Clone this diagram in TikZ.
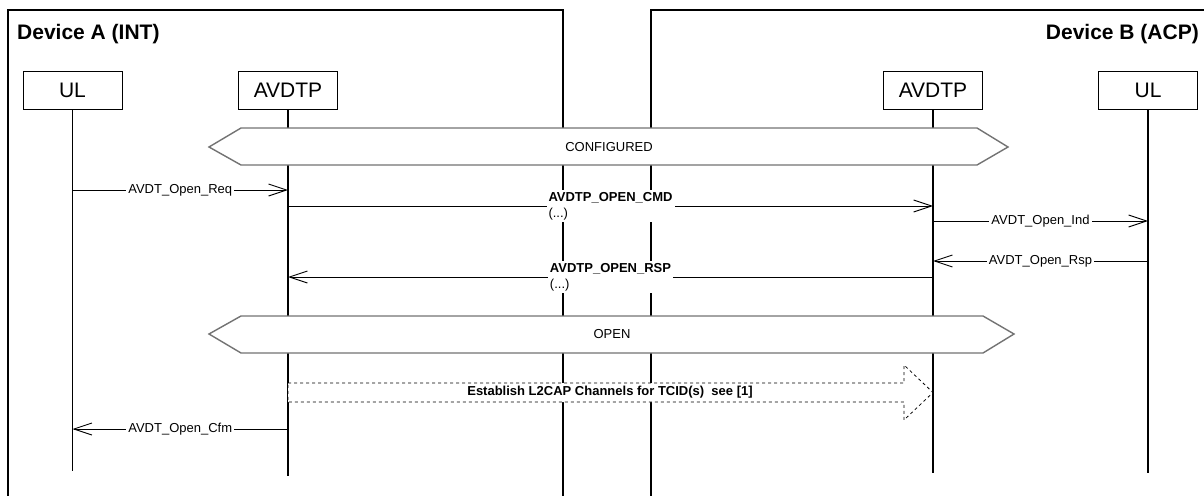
\documentclass[tikz,border=0pt]{standalone}
\usepackage{fontspec}
\setmainfont{Liberation Sans}
\usetikzlibrary{arrows.meta}
\begin{document}
\begin{tikzpicture}[x=1pt,y=-1pt,
  devline/.style={line width=2.2pt},
  devlabel/.style={inner sep=0pt,font=\fontsize{21}{24}\selectfont\bfseries},
  lifebox/.style={draw,line width=1pt,minimum width=99pt,minimum height=38pt,inner sep=0pt,font=\fontsize{21}{24}\selectfont},
  life/.style={line width=1.2pt},
  msg/.style={line width=0.9pt,-{Straight Barb[length=18pt,width=12pt,line width=0.9pt]}},
  lbl/.style={fill=white,inner sep=2pt,font=\fontsize{13}{16}\selectfont},
  state/.style={draw=black!55,line width=1.4pt,fill=white,line join=miter},
  statelbl/.style={inner sep=0pt,font=\fontsize{13}{16}\selectfont},
  fat/.style={draw,dashed,line width=0.8pt,fill=white}]
\useasboundingbox (0,0) rectangle (1204,495);
\clip (0,0) rectangle (1204,495);
% device frames
\draw[devline] (8,500) -- (8,10) -- (563,10) -- (563,500);
\draw[devline] (651,500) -- (651,10) -- (1210,10);
\node[devlabel,anchor=base west] (devA) at (17,40) {Device A (INT)};
\node[devlabel,anchor=base east] (devB) at (1199,40) {Device B (ACP)};
% lifeline heads
\node[lifebox] (ulA) at (72.5,90) {UL};
\node[lifebox] (avA) at (288,90) {AVDTP};
\node[lifebox] (avB) at (933,90) {AVDTP};
\node[lifebox] (ulB) at (1148,90) {UL};
\coordinate (ulAend) at (ulA |- 0,471);
\coordinate (avAend) at (avA |- 0,476);
\coordinate (avBend) at (avB |- 0,473);
\coordinate (ulBend) at (ulB |- 0,473);
\draw[life] (ulA.south) -- (ulAend);
\draw[life] (avA.south) -- (avAend);
\draw[life] (avB.south) -- (avBend);
\draw[life] (ulB.south) -- (ulBend);
% states
\draw[state] (209,147) -- (241,128) -- (977,128) -- (1008,147) -- (977,165) -- (241,165) -- cycle;
\node[statelbl] (cfg) at (609,147) {CONFIGURED};
\draw[state] (209,334) -- (241,316) -- (983,316) -- (1014,334) -- (983,353) -- (241,353) -- cycle;
\node[statelbl] (opn) at (612,334) {OPEN};
% messages
\draw[msg] (ulA |- 0,190) -- node[lbl] (lreq) {AVDT\_Open\_Req} (avA |- 0,190);
\draw[msg] (avA |- 0,206) -- node[lbl,align=left] (lcmd) {\textbf{AVDTP\_OPEN\_CMD}\\(...)} (avB |- 0,206);
\draw[msg] (avB |- 0,221) -- node[lbl] (lind) {AVDT\_Open\_Ind} (ulB |- 0,221);
\draw[msg] (ulB |- 0,261) -- node[lbl] (lrsp) {AVDT\_Open\_Rsp} (avB |- 0,261);
\draw[msg] (avB |- 0,277) -- node[lbl,align=left] (lorsp) {\textbf{AVDTP\_OPEN\_RSP}\\(...)} (avA |- 0,277);
% L2CAP fat arrow
\draw[fat] (avA |- 0,383) -- (904,383) -- (904,365) -- (avB |- 0,392.5) -- (904,420) -- (904,402) -- (avA |- 0,402) -- cycle;
\node[statelbl,font=\fontsize{13}{16}\selectfont\bfseries] (l2cap) at (610,392.5) {Establish L2CAP Channels for TCID(s)\ \ see [1]};
\draw[msg] (avA |- 0,429) -- node[lbl] (lcfm) {AVDT\_Open\_Cfm} (ulA |- 0,429);
\end{tikzpicture}
\end{document}
